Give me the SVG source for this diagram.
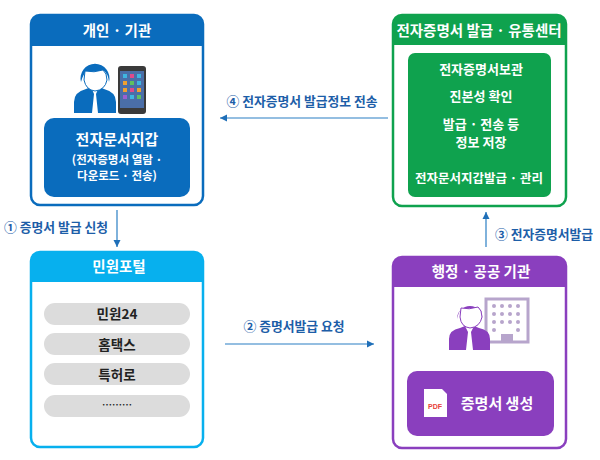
<svg xmlns="http://www.w3.org/2000/svg" width="600" height="460" viewBox="0 0 600 460">
<style>
text{font-family:"Noto Sans CJK KR","Noto Sans",sans-serif;text-anchor:middle;font-weight:700}
.w{fill:#fff}
.box{fill:#fff;stroke-width:2.5}
.t{font-size:14.5px;fill:#fff}
.c{stroke:#2a7fc4;stroke-width:1.2;fill:none;marker-end:url(#a)}
.l{font-size:12.8px;fill:#1d5ea8}
.g{fill:#dcdcdc}
.k{font-size:13.5px;fill:#222}
.s{font-size:13px;fill:#fff}
.x{font-size:11.5px;fill:#fff}
</style>
<defs>
<marker id="a" markerWidth="7" markerHeight="7" refX="6" refY="3" orient="auto"><path d="M0 0L6 3L0 6z" fill="#1f6fb8"/></marker>
</defs>
<rect width="600" height="460" fill="#fff"/>
<g id="connectors">
<path class="c" d="M117 210V247"/>
<path class="c" d="M388 118H220"/>
<path class="c" d="M225 344H374"/>
<path class="c" d="M486 247V212"/>
<text class="l" x="56" y="232">① 증명서 발급 신청</text>
<text class="l" x="302" y="106">④ 전자증명서 발급정보 전송</text>
<text class="l" x="294" y="331">② 증명서발급 요청</text>
<text class="l" x="544" y="239">③ 전자증명서발급</text>
</g>
<g id="person-org">
<rect class="box" x="31" y="15" width="172" height="190" rx="9" stroke="#0a6cbd"/>
<path d="M31 46V24a9 9 0 0 1 9-9H194a9 9 0 0 1 9 9V46z" fill="#0a6cbd"/>
<text class="t" x="117" y="36">개인 · 기관</text>
<path d="M74 113V102q0-10 12-13l5-2 3 7-2 19zM116 113V102q0-10-12-13l-5-2-3 7 2 19z" fill="#0a6cbd"/>
<path d="M81 82a14.500 14.500 0 1 1 28 0q-1-9-6-12-8 3-16 1-4 3-6 11z" fill="#0a6cbd"/>
<path d="M85 71q9 2 18-1 4 3 4 10-2 10-12 11-9-1-11-11z" fill="#fff" stroke="#0a6cbd"/>
<rect x="118" y="66" width="28" height="48" rx="3" fill="#3a3a3a"/>
<rect x="120" y="71" width="24" height="37" fill="#4a6ea8"/>
<rect x="123" y="74" width="4" height="4" fill="#3fb5e0"/><rect x="130" y="74" width="4" height="4" fill="#e04a8a"/><rect x="137" y="74" width="4" height="4" fill="#3fb5e0"/>
<rect x="123" y="81" width="4" height="4" fill="#f0a030"/><rect x="130" y="81" width="4" height="4" fill="#5fc05f"/><rect x="137" y="81" width="4" height="4" fill="#3fb5e0"/>
<rect x="123" y="88" width="4" height="4" fill="#f0a030"/><rect x="130" y="88" width="4" height="4" fill="#e04a8a"/><rect x="137" y="88" width="4" height="4" fill="#f0a030"/>
<rect x="123" y="95" width="4" height="4" fill="#9a5fd0"/><rect x="130" y="95" width="4" height="4" fill="#3fb5e0"/><rect x="137" y="95" width="4" height="4" fill="#5fc05f"/>
<rect x="44" y="118" width="146" height="79" rx="10" fill="#0a6cbd"/>
<text class="w" x="117" y="145" style="font-size:15px">전자문서지갑</text>
<text class="x" x="117" y="164">(전자증명서 열람 ·</text>
<text class="x" x="117" y="180">다운로드 · 전송)</text>
</g>
<g id="cert-center">
<rect class="box" x="393" y="15" width="173" height="191" rx="9" stroke="#0fa24e"/>
<path d="M393 45V24a9 9 0 0 1 9-9H557a9 9 0 0 1 9 9V45z" fill="#0fa24e"/>
<text class="t" x="479" y="36">전자증명서 발급 · 유통센터</text>
<rect x="408" y="53" width="143" height="144" rx="7" fill="#0fa24e"/>
<text class="s" x="481" y="74">전자증명서보관</text>
<text class="s" x="481" y="101">진본성 확인</text>
<text class="s" x="481" y="129">발급 · 전송 등</text>
<text class="s" x="481" y="147">정보 저장</text>
<text class="s" x="479" y="183" style="font-size:12.5px">전자문서지갑발급 · 관리</text>
</g>
<g id="civil-portal">
<rect class="box" x="31" y="252" width="172" height="195" rx="9" stroke="#07b0ee"/>
<path d="M31 282V261a9 9 0 0 1 9-9H194a9 9 0 0 1 9 9V282z" fill="#07b0ee"/>
<text class="t" x="119" y="272">민원포털</text>
<rect class="g" x="44" y="303" width="146" height="22" rx="11"/>
<text class="k" x="117" y="319">민원24</text>
<rect class="g" x="44" y="333" width="146" height="22" rx="11"/>
<text class="k" x="117" y="350">홈택스</text>
<rect class="g" x="44" y="363" width="146" height="22" rx="11"/>
<text class="k" x="117" y="380">특허로</text>
<rect class="g" x="44" y="395" width="146" height="22" rx="11"/>
<text class="k" x="117" y="409" style="font-size:10px">………</text>
</g>
<g id="public-org">
<rect class="box" x="393" y="257" width="173" height="191" rx="9" stroke="#8a3fbe"/>
<path d="M393 287V266a9 9 0 0 1 9-9H557a9 9 0 0 1 9 9V287z" fill="#8a3fbe"/>
<text class="t" x="481" y="277">행정 · 공공 기관</text>
<rect x="486" y="299" width="42" height="43" fill="#fff" stroke="#b7a5cc" stroke-width="3"/>
<g fill="#b7a5cc"><circle cx="494" cy="306" r="2"/><circle cx="502" cy="306" r="2"/><circle cx="510" cy="306" r="2"/><circle cx="518" cy="306" r="2"/><circle cx="494" cy="314" r="2"/><circle cx="502" cy="314" r="2"/><circle cx="510" cy="314" r="2"/><circle cx="518" cy="314" r="2"/><circle cx="494" cy="322" r="2"/><circle cx="502" cy="322" r="2"/><circle cx="510" cy="322" r="2"/><circle cx="518" cy="322" r="2"/><circle cx="494" cy="330" r="2"/><circle cx="518" cy="330" r="2"/><rect x="501" y="334" width="12" height="8"/></g>
<path d="M449 350V339q0-9 11-11l5-2 3 6-2 18zM490 350V339q0-9-11-11l-5-2-3 6 2 18z" fill="#8a3fbe"/>
<path d="M457 319a13 13 0 1 1 26 0q-1-9-5-12-8 3-15 1-4 2-6 11z" fill="#8a3fbe"/>
<path d="M461 308q8 2 17-1 4 3 4 10-2 10-12 11-9-1-10-11z" fill="#fff" stroke="#8a3fbe"/>
<rect x="407" y="371" width="147" height="65" rx="10" fill="#8a3fbe"/>
<path d="M424 389H442L447 394V417H424z" fill="#fff"/>
<text x="435" y="409" style="font-size:7px;fill:#e8423a;font-family:'Liberation Sans',sans-serif">PDF</text>
<text class="w" x="497" y="409" style="font-size:15px">증명서 생성</text>
</g>
</svg>
